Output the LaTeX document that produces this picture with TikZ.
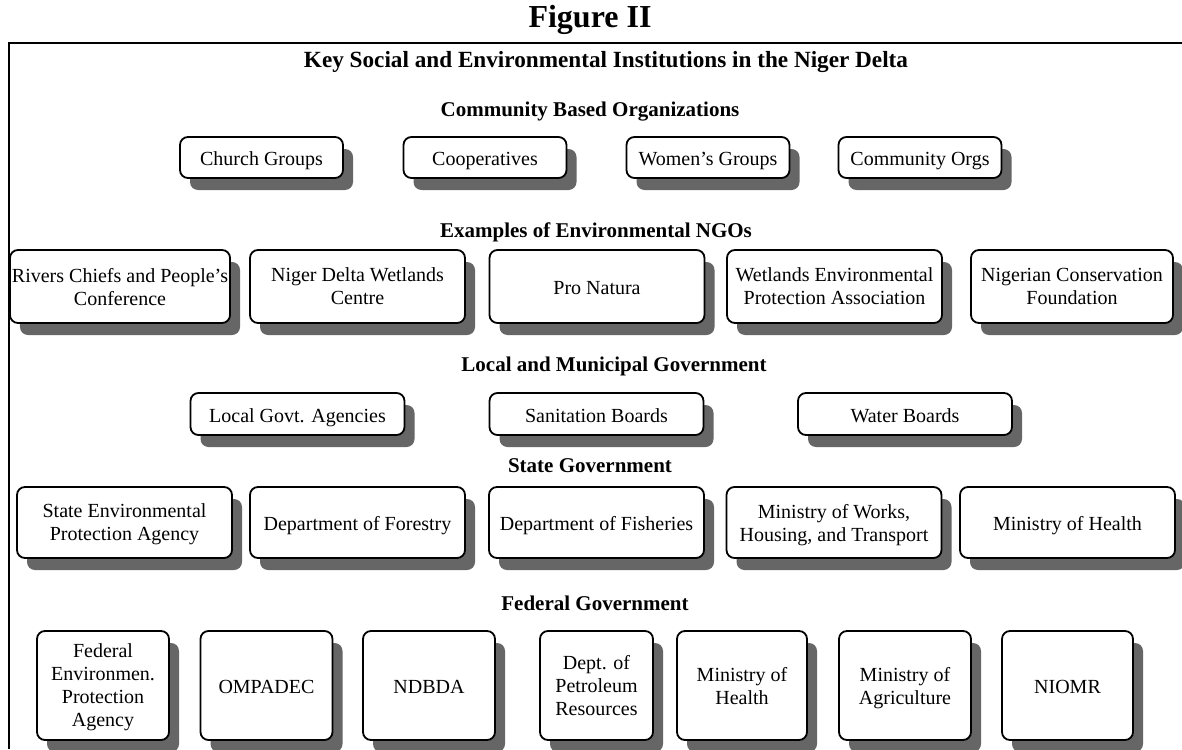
\documentclass[tikz,border=0pt]{standalone}
\usepackage{fontspec}
\setmainfont{Liberation Serif}
\usetikzlibrary{shadows}

\tikzset{
  inst/.style={draw, line width=0.9pt, rounded corners=4pt, fill=white,
    align=center, inner sep=1pt,
    font=\fontsize{10}{11.5}\selectfont,
    execute at begin node=\strut, text depth=-1.5pt,
    drop shadow={shadow xshift=5pt, shadow yshift=-6pt, opacity=1, fill=black!60}},
  cbo/.style={inst, minimum width=81.5pt, minimum height=20.5pt},
  ngo/.style={inst, minimum width=107.5pt, minimum height=36.5pt},
  lgov/.style={inst, minimum width=107pt, minimum height=21pt},
  sgov/.style={inst, minimum width=107.5pt, minimum height=35.5pt},
  fgov/.style={inst, minimum width=66pt, minimum height=54.5pt},
  head/.style={font=\bfseries\fontsize{10.5}{12}\selectfont}
}

\begin{document}
\begin{tikzpicture}[x=0.5pt, y=-0.5pt]
\useasboundingbox (0,0) rectangle (1182,749);
\path[draw, line width=1pt] (9,749) -- (9,43) -- (1182,43);

\node[font=\bfseries\fontsize{16}{18}\selectfont] (fig) at (590,20) {Figure II};
\node[font=\bfseries\fontsize{11.6}{13}\selectfont] (title) at (606,62) {Key Social and Environmental Institutions in the Niger Delta};

% community based organizations
\node[head] (hcbo) at (590,112) {Community Based Organizations};
\node[cbo] (church) at (261.5,157.5) {Church Groups};
\node[cbo] (coop) at (485,157.5) {Cooperatives};
\node[cbo] (women) at (708,157.5) {Women's Groups};
\node[cbo] (corgs) at (920,157.5) {Community Orgs};

% NGOs
\node[head] (hngo) at (596,232) {Examples of Environmental NGOs};
\node[ngo] (rivers) at (120,286.5) {Rivers Chiefs and People's\\Conference};
\node[ngo] (ndwc) at (357.5,286.5) {Niger Delta Wetlands\\Centre};
\node[ngo] (pronat) at (597,286.5) {Pro Natura};
\node[ngo] (wepa) at (834.5,286.5) {Wetlands Environmental\\Protection Association};
\node[ngo, minimum width=101pt] (ncf) at (1072,286.5) {Nigerian Conservation\\Foundation};

% local and municipal
\node[head] (hlgov) at (614,366) {Local and Municipal Government};
\node[lgov] (lga) at (297.5,414) {Local Govt. Agencies};
\node[lgov] (sanit) at (596.5,414) {Sanitation Boards};
\node[lgov] (water) at (905,414) {Water Boards};

% state
\node[head] (hsgov) at (590,466) {State Government};
\node[sgov] (sepa) at (124.5,522.5) {State Environmental\\Protection Agency};
\node[sgov] (forest) at (357.5,522.5) {Department of Forestry};
\node[sgov] (fish) at (596.5,522.5) {Department of Fisheries};
\node[sgov] (works) at (834,522.5) {Ministry of Works,\\Housing, and Transport};
\node[sgov] (shealth) at (1067.5,522.5) {Ministry of Health};

% federal
\node[head] (hfgov) at (595,603) {Federal Government};
\node[fgov] (fepa) at (103,685.5) {Federal\\Environmen.\\Protection\\Agency};
\node[fgov] (ompadec) at (266.5,685.5) {OMPADEC};
\node[fgov] (ndbda) at (429,685.5) {NDBDA};
\node[fgov, minimum width=56.5pt] (dpr) at (596.5,685.5) {Dept. of\\Petroleum\\Resources};
\node[fgov, minimum width=65pt] (fhealth) at (742,685.5) {Ministry of\\Health};
\node[fgov] (agric) at (905,685.5) {Ministry of\\Agriculture};
\node[fgov, minimum width=65.5pt] (niomr) at (1067.5,685.5) {NIOMR};
\end{tikzpicture}
\end{document}
